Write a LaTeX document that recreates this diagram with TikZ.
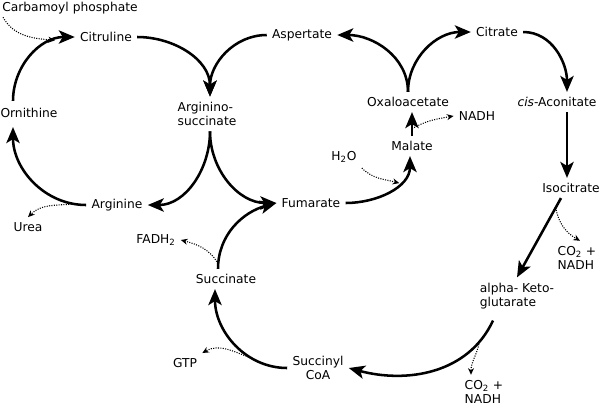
\documentclass[tikz,border=0pt]{standalone}
\usepackage{fontspec}
\setmainfont{DejaVu Sans}
\usetikzlibrary{calc,positioning,arrows.meta}
\tikzset{
  % node styles (metabolites, side products)
  metab/.style={inner sep=2pt,outer sep=2pt},
  % connector styles
  % gebruik: \draw[reaction] (a) to[out=..,in=..] (b);
  reaction/.style={line width=1.9pt,-{Stealth[length=12pt,width=10pt,inset=3pt]}},
  sidestep/.style={densely dotted,line width=0.8pt,-{Stealth[length=5pt,width=4.5pt]}},
}

\begin{document}
\begin{tikzpicture}[x=0.75pt,y=0.75pt,font=\fontsize{9.2}{11}\selectfont]
  \useasboundingbox (0,0) rectangle (600,-405);
  % urea cycle
  \node[metab] (carb) at (70,-8) {Carbamoyl phosphate};
  \node[metab] (citl) at (106,-37) {Citruline};
  \node[metab] (orn) at (29,-113) {Ornithine};
  \node[metab] (arg) at (117,-205) {Arginine};
  \node[metab] (urea) at (28,-227) {Urea};
  \node[metab,align=left] (argsuc) at (207,-114) {Arginino-\\succinate};
  \node[metab] (asp) at (302,-35) {Aspertate};
  % citric acid cycle
  \node[metab] (fum) at (311,-203) {Fumarate};
  \node[metab] (fadh) at (156,-240) {FADH\textsubscript{2}};
  \node[metab] (suc) at (226,-279) {Succinate};
  \node[metab] (gtp) at (185,-363) {GTP};
  \node[metab,align=center] (sco) at (318,-368) {Succinyl\\CoA};
  \node[metab] (oxa) at (408,-102) {Oxaloacetate};
  \node[metab] (nadh) at (477,-116) {NADH};
  \node[metab] (mal) at (412,-146) {Malate};
  \node[metab] (h2o) at (344,-157) {H\textsubscript{2}O};
  \node[metab] (citr) at (497,-32) {Citrate};
  \node[metab] (acon) at (557,-102) {\textit{cis}-Aconitate};
  \node[metab] (iso) at (571,-188) {Isocitrate};
  \node[metab,align=left] (co2a) at (577,-258) {CO\textsubscript{2} +\\NADH};
  \node[metab,align=left] (akg) at (517,-296) {alpha- Keto-\\glutarate};
  \node[metab,align=left] (co2b) at (484,-392) {CO\textsubscript{2} +\\NADH};

  \draw[reaction] ($(orn.north)+(-16,2)$) to[out=90,in=180] coordinate[pos=.8] (cpin) (citl.west);
  \draw[reaction] (arg.west) to[out=180,in=-90] coordinate[pos=.1] (ureaout) ($(orn.south)+(-16,-4)$);
  \draw[reaction] (citl.east) to[out=0,in=90] ($(argsuc.north)+(3,0)$);
  \draw[reaction] (asp.west) to[out=180,in=90] ($(argsuc.north)+(3,0)$);
  \draw[reaction] ($(argsuc.south)+(3,0)$) to[out=-90,in=0] (arg.east);
  \draw[reaction] ($(argsuc.south)+(3,0)$) to[out=-90,in=180] (fum.west);
  \draw[reaction] (oxa.north) to[out=90,in=0] (asp.east);
  \draw[reaction] (oxa.north) to[out=90,in=180] (citr.west);
  \draw[reaction] (citr.east) to[out=0,in=90] ($(acon.north)+(10,0)$);
  \draw[reaction] ($(acon.south)+(10,0)$) -- ($(iso.north)+(-4,0)$);
  \draw[reaction] ($(iso.south)+(-10,0)$) -- coordinate[pos=.12] (isoout) (akg.north);
  \draw[reaction] ($(akg.south)+(-24,-6)$) to[out=-115,in=-15] coordinate[pos=.15] (akgout) (sco.east);
  \draw[reaction] (sco.west) to[out=180,in=-90] coordinate[pos=.3] (gtpout) ($(suc.south)+(-11,0)$);
  \draw[reaction] ($(suc.north)+(-8,0)$) to[out=90,in=195] coordinate[pos=.05] (fadhout) (fum.west);
  \draw[reaction] (fum.east) to[out=0,in=-90] coordinate[pos=.65] (h2oin) ($(mal.south)+(-2,0)$);
  \draw[reaction] (mal.north) -- coordinate[pos=.3] (nadhout) (oxa.south -| mal.north);

  % side products
  \draw[sidestep] ($(carb.south west)+(6,2)$) to[out=-60,in=175] (cpin);
  \draw[sidestep] (ureaout) to[out=185,in=45] (urea.north);
  \draw[sidestep] (nadhout) to[out=30,in=190] (nadh.west);
  \draw[sidestep] (h2o.south east) to[out=-45,in=165] (h2oin);
  \draw[sidestep] (isoout) to[out=-80,in=150] ($(co2a.north)+(3,0)$);
  \draw[sidestep] (akgout) to[out=-100,in=90] ($(co2b.north)+(-13,0)$);
  \draw[sidestep] (gtpout) to[out=160,in=30] (gtp.north east);
  \draw[sidestep] (fadhout) to[out=120,in=-15] (fadh.east);
\end{tikzpicture}
\end{document}
